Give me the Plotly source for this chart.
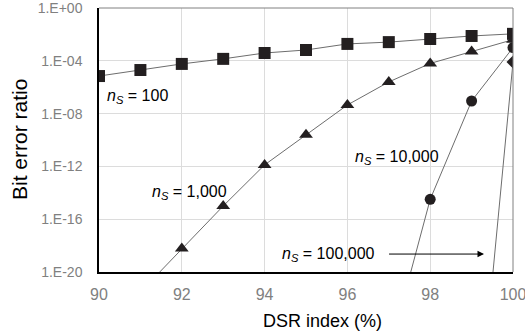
import plotly.graph_objects as go

dsr_100 = [90, 91, 92, 93, 94, 95, 96, 97, 98, 99, 100]
ber_100 = [7e-6, 2e-5, 5.8e-5, 1.4e-4, 3.9e-4, 6.6e-4, 1.9e-3, 2.6e-3, 4.5e-3, 7.6e-3, 1.1e-2]

dsr_1000 = [91, 92, 93, 94, 95, 96, 97, 98, 99, 100]
ber_1000 = [3e-22, 6e-19, 1e-15, 1.3e-12, 2.5e-10, 4.5e-8, 2.5e-6, 6.3e-5, 5e-4, 4e-3]

dsr_10000 = [97, 98, 99, 100]
ber_10000 = [6e-27, 3.2e-15, 9e-8, 1e-3]

dsr_100000 = [99, 100]
ber_100000 = [1e-37, 8e-5]

y_ticks = [1e0, 1e-4, 1e-8, 1e-12, 1e-16, 1e-20]
y_labels = ["1.E+00", "1.E-04", "1.E-08", "1.E-12", "1.E-16", "1.E-20"]
x_ticks = [90, 92, 94, 96, 98, 100]

mk = "#231f20"
ln = dict(color="#6d6d6d", width=1)

fig = go.Figure()
fig.add_trace(go.Scatter(x=dsr_100, y=ber_100, mode="lines+markers", line=ln,
                         marker=dict(symbol="square", size=12, color=mk)))
fig.add_trace(go.Scatter(x=dsr_1000, y=ber_1000, mode="lines+markers", line=ln,
                         marker=dict(symbol="triangle-up", size=12, color=mk)))
fig.add_trace(go.Scatter(x=dsr_10000, y=ber_10000, mode="lines+markers", line=ln,
                         marker=dict(symbol="circle", size=11, color=mk)))
fig.add_trace(go.Scatter(x=dsr_100000, y=ber_100000, mode="lines+markers", line=ln,
                         marker=dict(symbol="diamond", size=10, color=mk)))

ann_font = dict(family="Liberation Sans, Arial", size=16, color="black")
anns = [
    dict(x=90.92, y=-6.67, text="<i>n</i><sub><i>S</i></sub> = 100"),
    dict(x=92.18, y=-14.0, text="<i>n</i><sub><i>S</i></sub> = 1,000"),
    dict(x=97.19, y=-11.36, text="<i>n</i><sub><i>S</i></sub> = 10,000"),
    dict(x=95.54, y=-18.64, text="<i>n</i><sub><i>S</i></sub> = 100,000"),
]
for a in anns:
    fig.add_annotation(x=a["x"], y=a["y"], text=a["text"], showarrow=False,
                       font=ann_font, xref="x", yref="y")
fig.add_annotation(x=99.3, y=-18.64, ax=96.97, ay=-18.64, axref="x", ayref="y",
                   xref="x", yref="y", text="", showarrow=True, arrowhead=2,
                   arrowsize=1.3, arrowwidth=1, arrowcolor="black")

# axis titles (positioned as in the reference)
fig.add_annotation(text="DSR index (%)", xref="paper", yref="paper", x=0.54, y=0,
                   yshift=-49, xanchor="center", yanchor="middle", showarrow=False,
                   font=dict(family="Liberation Sans, Arial", size=18, color="black"))
fig.add_annotation(text="Bit error ratio", xref="paper", yref="paper", x=0, y=0.5,
                   xshift=-80, xanchor="center", yanchor="middle", textangle=-90,
                   showarrow=False,
                   font=dict(family="Liberation Sans, Arial", size=21, color="black"))

fig.update_layout(
    width=525, height=335, showlegend=False,
    paper_bgcolor="white", plot_bgcolor="white",
    margin=dict(l=99, r=12, t=8, b=63, autoexpand=False),
    font=dict(family="Liberation Sans, Arial"),
)
fig.update_xaxes(range=[90, 100], tickvals=x_ticks, showgrid=True, gridcolor="#dcdcdc",
                 showline=True, linecolor="black", linewidth=1.5, mirror=False,
                 ticks="", tickfont=dict(size=16, color="#808080"), ticklabelstandoff=7,
                 ticklabeloverflow="allow",
                 zeroline=False, automargin=False)
fig.update_yaxes(type="log", range=[-20, 0], tickvals=y_ticks, ticktext=y_labels,
                 showgrid=True, gridcolor="#dcdcdc",
                 showline=True, linecolor="black", linewidth=1.5,
                 ticks="", tickfont=dict(size=14, color="#808080"), ticklabelstandoff=12,
                 ticklabeloverflow="allow",
                 zeroline=False, automargin=False)
fig.add_shape(type="line", xref="paper", yref="paper", x0=0, x1=1, y0=1, y1=1,
              line=dict(color="#808080", width=1))
fig.add_shape(type="line", xref="paper", yref="paper", x0=1, x1=1, y0=0, y1=1,
              line=dict(color="#808080", width=1))

fig.write_html("out.html", config={"displayModeBar": False},
               post_script="document.body.style.margin='0';")
